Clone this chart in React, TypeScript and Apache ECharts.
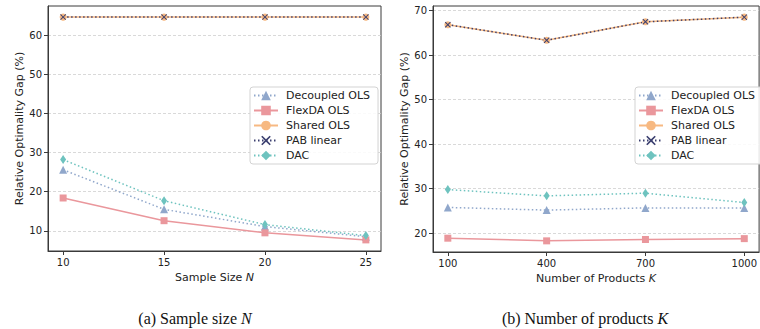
import React, { useEffect, useRef } from "react";
import * as echarts from "echarts";

const sampleSizes = [10, 15, 20, 25];
const decoupledN = [25.6, 15.5, 11.1, 8.5];
const flexdaN = [18.4, 12.6, 9.5, 7.7];
const sharedN = [64.6, 64.6, 64.6, 64.6];
const pabN = [64.6, 64.6, 64.6, 64.6];
const dacN = [28.2, 17.7, 11.6, 8.8];

const products = [100, 400, 700, 1000];
const decoupledK = [25.8, 25.2, 25.7, 25.7];
const flexdaK = [18.9, 18.3, 18.6, 18.8];
const sharedK = [66.8, 63.3, 67.45, 68.5];
const pabK = [66.8, 63.3, 67.45, 68.5];
const dacK = [29.8, 28.4, 29.0, 26.9];

const yTicksN = [10, 20, 30, 40, 50, 60];
const yTicksK = [20, 30, 40, 50, 60, 70];

const names = ["Decoupled OLS", "FlexDA OLS", "Shared OLS", "PAB linear", "DAC"];

const FONT = "DejaVu Sans";
const C_DEC = "#90a7cb";
const C_FLEX = "#ea979c";
const C_SHARED = "#f7b982";
const C_PAB = "#3c4070";
const C_DAC = "#6ec3bf";
const SPINE = "#3a3a3a";
const XMARK = "path://M0,1.2L1.2,0L5,3.8L8.8,0L10,1.2L6.2,5L10,8.8L8.8,10L5,6.2L1.2,10L0,8.8L3.8,5Z";
const DOT: number[] = [1.5, 2.5];

function pairs(xs: number[], ys: number[]) {
  return xs.map((x, i) => [x, ys[i]]);
}

function makeSeries(idx: number, xs: number[], d: number[], f: number[], s: number[], p: number[], c: number[]) {
  return [
    {
      name: names[0], type: "line", xAxisIndex: idx, yAxisIndex: idx,
      data: pairs(xs, d), symbol: "triangle", symbolSize: 8,
      lineStyle: { color: C_DEC, width: 1.5, type: DOT },
      itemStyle: { color: C_DEC },
    },
    {
      name: names[1], type: "line", xAxisIndex: idx, yAxisIndex: idx,
      data: pairs(xs, f), symbol: "rect", symbolSize: 7,
      lineStyle: { color: C_FLEX, width: 1.5, type: "solid" },
      itemStyle: { color: C_FLEX },
    },
    {
      name: names[2], type: "line", xAxisIndex: idx, yAxisIndex: idx,
      data: pairs(xs, s), symbol: "circle", symbolSize: 7,
      lineStyle: { color: C_SHARED, width: 1.5, type: "solid" },
      itemStyle: { color: C_SHARED },
    },
    {
      name: names[3], type: "line", xAxisIndex: idx, yAxisIndex: idx,
      data: pairs(xs, p), symbol: XMARK, symbolSize: 6,
      lineStyle: { color: C_PAB, width: 1.5, type: DOT },
      itemStyle: { color: C_PAB },
    },
    {
      name: names[4], type: "line", xAxisIndex: idx, yAxisIndex: idx,
      data: pairs(xs, c), symbol: "diamond", symbolSize: [6, 9],
      lineStyle: { color: C_DAC, width: 1.5, type: DOT },
      itemStyle: { color: C_DAC },
    },
  ];
}

function xAxis(idx: number, min: number, max: number, ticks: number[], name: string) {
  return {
    type: "value", gridIndex: idx, min, max,
    name: `{r|${name} }{i|${idx === 0 ? "N" : "K"}}`,
    nameLocation: "middle", nameGap: 17,
    nameTextStyle: {
      rich: {
        r: { fontFamily: FONT, fontSize: 11, color: "#222" },
        i: { fontFamily: FONT, fontSize: 11, color: "#222", fontStyle: "italic" },
      },
    },
    axisLine: { show: true, lineStyle: { color: SPINE, width: 1 } },
    axisTick: { show: true, inside: false, length: 4, customValues: ticks, lineStyle: { color: SPINE, width: 1 } },
    axisLabel: {
      customValues: ticks, fontFamily: FONT, fontSize: 10, color: "#222", margin: 6,
      formatter: (v: number) => String(v),
    },
    splitLine: { show: false },
  };
}

function yAxis(idx: number, min: number, max: number, ticks: number[]) {
  return {
    type: "value", gridIndex: idx, min, max,
    name: "Relative Optimality Gap (%)",
    nameLocation: "middle", nameGap: 22,
    nameTextStyle: { fontFamily: FONT, fontSize: 11, color: "#222" },
    axisLine: { show: true, lineStyle: { color: SPINE, width: 1 } },
    axisTick: { show: true, inside: false, length: 4, customValues: ticks, lineStyle: { color: SPINE, width: 1 } },
    axisLabel: {
      customValues: ticks, fontFamily: FONT, fontSize: 10, color: "#222", margin: 6,
      formatter: (v: number) => String(v),
    },
    splitLine: { show: true, lineStyle: { color: "#cfcfcf", width: 0.8, type: [3, 2] } },
  };
}

function legend(left: number) {
  return {
    orient: "vertical", left, top: 87,
    data: names,
    itemWidth: 24, itemHeight: 12, itemGap: 4,
    padding: [3, 8, 3, 3],
    borderColor: "#d3d3d3", borderWidth: 1, borderRadius: 3,
    backgroundColor: "rgba(255,255,255,0.85)",
    textStyle: { fontFamily: FONT, fontSize: 11, color: "#222", padding: [0, 0, 0, 3] },
  };
}

export default function App() {
  const ref = useRef<HTMLDivElement>(null);
  useEffect(() => {
    if (!ref.current) return;
    const chart = echarts.init(ref.current, undefined, { renderer: "svg" });
    chart.setOption({
      animation: false,
      backgroundColor: "#fff",
      grid: [
        { left: 48, top: 6, width: 333, height: 245, show: true, borderColor: SPINE, borderWidth: 1, backgroundColor: "transparent" },
        { left: 433, top: 6, width: 333, height: 246, show: true, borderColor: SPINE, borderWidth: 1, backgroundColor: "transparent" },
      ],
      xAxis: [
        xAxis(0, 9.25, 25.75, sampleSizes, "Sample Size"),
        xAxis(1, 55, 1045, products, "Number of Products"),
      ],
      yAxis: [
        yAxis(0, 4.86, 67.44, yTicksN),
        yAxis(1, 15.8, 71.0, yTicksK),
      ],
      legend: [legend(250), legend(635)],
      series: [
        ...makeSeries(0, sampleSizes, decoupledN, flexdaN, sharedN, pabN, dacN),
        ...makeSeries(1, products, decoupledK, flexdaK, sharedK, pabK, dacK),
      ],
      graphic: [
        {
          type: "text", x: 195, y: 318,
          style: {
            text: "{r|(a) Sample size }{i|N}", align: "center", verticalAlign: "middle",
            rich: {
              r: { fontFamily: "Liberation Serif", fontSize: 16, fill: "#111" },
              i: { fontFamily: "Liberation Serif", fontSize: 16, fill: "#111", fontStyle: "italic" },
            },
          },
        },
        {
          type: "text", x: 585, y: 318,
          style: {
            text: "{r|(b) Number of products }{i|K}", align: "center", verticalAlign: "middle",
            rich: {
              r: { fontFamily: "Liberation Serif", fontSize: 16, fill: "#111" },
              i: { fontFamily: "Liberation Serif", fontSize: 16, fill: "#111", fontStyle: "italic" },
            },
          },
        },
      ],
    });
    return () => chart.dispose();
  }, []);
  return <div ref={ref} style={{ position: "fixed", left: 0, top: 0, width: 760, height: 329 }} />;
}
